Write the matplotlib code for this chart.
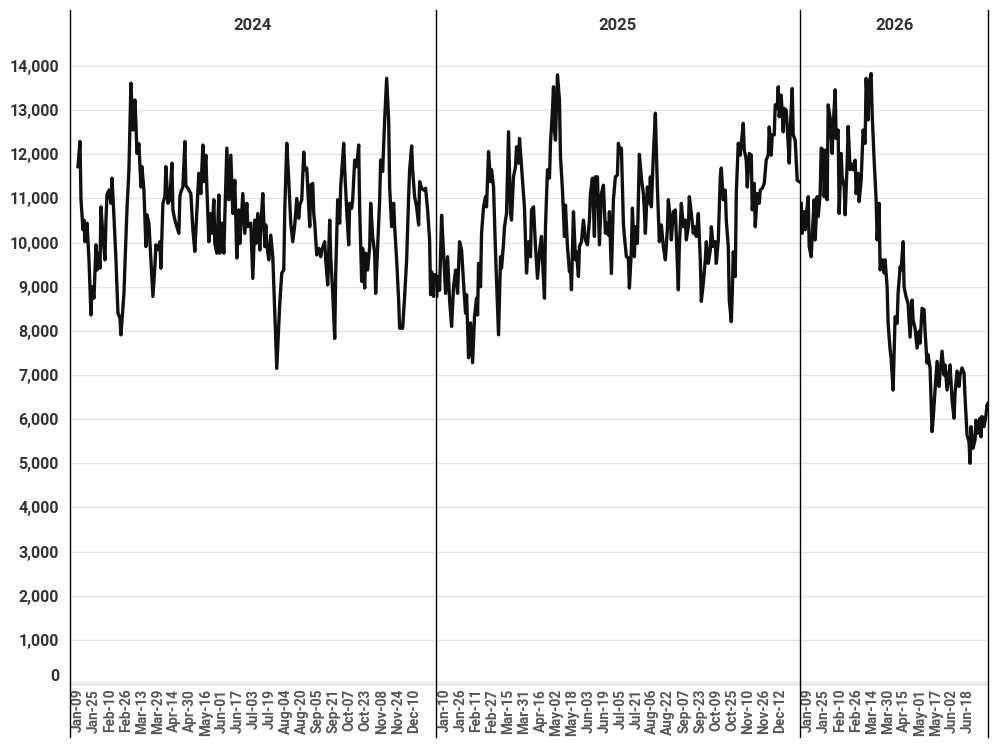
import matplotlib
matplotlib.use("Agg")
import matplotlib.pyplot as plt
import numpy as np
import pandas as pd
from matplotlib.lines import Line2D

plt.rcParams["font.family"] = ["Roboto", "DejaVu Sans"]

# values, (day of year, value) per year
days_2024 = [9, 11, 12, 14, 15, 16, 18, 20, 22, 23, 25, 27, 28, 30, 31, 32, 34, 36, 37, 38,
             40, 42, 43, 45, 47, 49, 51, 52, 55, 58, 60, 61, 62, 64, 66, 67, 68, 70, 72, 73,
             75, 77, 78, 80, 82, 84, 86, 87, 89, 91, 92, 94, 96, 97, 99, 101, 103, 104, 106, 108,
             110, 111, 112, 114, 116, 117, 120, 122, 124, 126, 127, 130, 132, 134, 135, 137, 138, 140, 141, 143,
             145, 146, 148, 150, 151, 153, 155, 156, 158, 160, 162, 164, 166, 168, 170, 171, 174, 176, 178, 179,
             182, 184, 186, 187, 189, 191, 192, 194, 196, 197, 198, 200, 202, 204, 206, 208, 211, 213, 215, 216,
             218, 220, 222, 224, 226, 228, 230, 231, 233, 235, 236, 238, 241, 242, 244, 245, 246, 248, 250, 252,
             253, 256, 257, 259, 261, 262, 264, 266, 267, 269, 271, 272, 275, 276, 278, 280, 281, 283, 284, 286,
             288, 290, 291, 293, 294, 296, 297, 299, 301, 302, 304, 306, 307, 309, 311, 312, 314, 316, 318, 320,
             321, 323, 325, 326, 328, 330, 331, 334, 336, 338, 340, 341, 343, 344, 346, 348, 350, 351, 353, 355,
             357, 359, 361, 362, 363, 365, 366]
values_2024 = [11720, 12290, 10970, 10290, 10510, 10020, 10440, 9610, 8360, 9000, 8740, 9950, 9380, 9760, 9420, 10810, 10130, 9610, 10510, 11080,
               11190, 10890, 11460, 10590, 9610, 8400, 8290, 7910, 8850, 10740, 11650, 12630, 13610, 12550, 13230, 12700, 12020, 12240, 11260, 11720,
               11190, 9910, 10630, 10440, 9610, 8780, 9460, 9950, 9840, 10020, 9420, 10890, 11040, 11720, 10890, 10970, 11800, 10740, 10510, 10360,
               10210, 11040, 11150, 11260, 12290, 11300, 11190, 11110, 10290, 9800, 10290, 11570, 11110, 12210, 11380, 11980, 11260, 10020, 10660, 10210,
               10970, 9980, 9760, 11080, 9760, 10440, 9760, 10590, 12140, 10970, 11980, 10660, 11410, 9650, 10740, 9980, 11110, 10210, 10890, 10360,
               10440, 9190, 10510, 9980, 10660, 9830, 10360, 11110, 9910, 10400, 9950, 9610, 10170, 9680, 8400, 7150, 8620, 9310, 9380, 10740,
               12250, 11410, 10440, 10020, 10400, 11000, 10550, 10850, 10970, 12050, 11650, 11690, 10360, 11310, 11340, 10660, 10440, 9720, 9870, 9680,
               9830, 10020, 9610, 9040, 10510, 9680, 8850, 7830, 9310, 10970, 10440, 11260, 12250, 11650, 10740, 9950, 10890, 10780, 10970, 11870,
               11720, 12210, 10740, 9120, 9870, 8970, 9760, 9380, 9910, 10890, 10140, 9760, 8850, 9910, 10970, 11870, 11610, 12780, 13720, 12780,
               11260, 10360, 10890, 10360, 9610, 8700, 8060, 8060, 8780, 9610, 11040, 11650, 12190, 11650, 11040, 10810, 10400, 11380, 11230, 11190,
               11230, 10740, 10060, 8820, 9340, 8780, 9270]

days_2025 = [1, 2, 3, 5, 7, 9, 11, 13, 15, 17, 19, 21, 23, 25, 27, 29, 31, 32, 34, 36,
             38, 40, 42, 43, 44, 46, 47, 49, 51, 52, 54, 56, 57, 59, 61, 64, 66, 67, 69, 70,
             72, 74, 76, 77, 79, 81, 82, 84, 85, 87, 89, 90, 92, 94, 96, 97, 99, 101, 103, 105,
             107, 108, 110, 111, 113, 115, 116, 118, 119, 120, 121, 123, 125, 126, 128, 130, 131, 133, 135, 136,
             137, 139, 141, 142, 144, 145, 147, 149, 151, 153, 155, 156, 158, 160, 161, 163, 165, 167, 169, 171,
             172, 174, 175, 177, 179, 181, 183, 184, 186, 187, 189, 190, 192, 194, 195, 197, 198, 200, 201, 203,
             205, 207, 209, 210, 211, 213, 215, 216, 217, 219, 221, 223, 225, 227, 229, 231, 233, 234, 236, 237,
             239, 241, 244, 245, 247, 249, 251, 252, 254, 255, 257, 259, 260, 262, 264, 266, 267, 269, 271, 272,
             274, 276, 277, 279, 281, 282, 284, 286, 287, 289, 291, 292, 294, 295, 297, 298, 299, 301, 302, 304,
             306, 307, 309, 310, 312, 313, 315, 317, 318, 320, 321, 323, 325, 326, 328, 330, 332, 334, 335, 337,
             338, 340, 341, 343, 344, 345, 347, 349, 350, 352, 353, 355, 356, 358, 359, 361, 363, 365]
values_2025 = [9300, 8770, 9230, 8920, 10620, 9760, 8850, 9680, 8700, 8100, 9000, 9380, 8850, 10020, 9830, 9080, 8400, 8820, 7390, 8180,
               7280, 8330, 8740, 8360, 9530, 9000, 10210, 10810, 11040, 10810, 12060, 11380, 11650, 11260, 9760, 7910, 9680, 9420, 9980, 10360,
               10660, 12510, 10660, 10510, 11490, 11720, 12170, 11800, 12360, 11720, 11110, 10780, 9310, 10020, 9680, 10740, 10810, 9910, 9190, 9790,
               10140, 9610, 8740, 10360, 11650, 11460, 12250, 13000, 13530, 12550, 12320, 13800, 13230, 11950, 11190, 10140, 10850, 9910, 9340, 9490,
               8930, 10700, 9610, 9790, 9230, 9910, 10020, 10510, 10060, 9950, 10510, 11110, 11460, 10140, 11490, 11490, 9950, 11110, 11300, 10210,
               10440, 10170, 10700, 9300, 10970, 11490, 11530, 12250, 12020, 12140, 10440, 10140, 9680, 9650, 8970, 9830, 10780, 9680, 10360, 9980,
               12000, 11460, 11110, 10740, 10210, 11260, 10890, 11490, 10810, 11980, 12930, 11260, 10020, 10400, 9910, 9610, 10290, 10970, 10510, 10060,
               10700, 10740, 8930, 9910, 10890, 10360, 10510, 10060, 10360, 11040, 10660, 10210, 10360, 10140, 10660, 9610, 8670, 9080, 9610, 10020,
               9530, 9830, 10360, 9910, 10020, 9530, 10060, 11490, 11690, 10970, 11190, 10510, 9910, 8700, 8210, 8850, 9790, 9230, 11110, 12250,
               11980, 12250, 12700, 12100, 11870, 11260, 12020, 11980, 10740, 11340, 10360, 11110, 10890, 11190, 11230, 11340, 11870, 11980, 12620, 11980,
               12440, 12440, 13120, 13040, 13530, 12850, 13340, 12510, 13040, 13000, 12630, 11800, 12550, 13490, 12440, 12320, 11410, 11380]

days_2026 = [2, 3, 5, 6, 7, 9, 10, 12, 13, 15, 16, 18, 19, 21, 22, 24, 25, 27, 28, 29,
             31, 33, 34, 36, 37, 39, 40, 42, 43, 45, 46, 48, 49, 51, 52, 54, 56, 57, 59, 60,
             62, 64, 66, 67, 69, 70, 72, 73, 75, 77, 78, 80, 81, 83, 85, 86, 88, 89, 91, 92,
             94, 96, 98, 99, 101, 102, 104, 105, 107, 109, 111, 113, 114, 116, 118, 120, 121, 123, 125, 126,
             128, 129, 131, 133, 134, 136, 138, 140, 141, 143, 145, 146, 148, 150, 151, 153, 155, 156, 158, 160,
             161, 163, 165, 166, 168, 170, 171, 172, 174, 176, 177, 179, 181, 182, 183, 185, 187, 188, 189]
values_2026 = [10890, 10210, 10700, 10290, 10590, 11040, 9910, 9680, 10140, 10970, 10060, 11040, 10590, 11110, 12140, 12100, 11040, 12100, 10970, 13120,
               12820, 12020, 12630, 13460, 12360, 12550, 10660, 12020, 11490, 11260, 10630, 11790, 12630, 11650, 11790, 11650, 11870, 11110, 11570, 10930,
               11410, 12550, 12250, 13720, 12780, 13610, 13830, 12930, 11870, 10970, 10060, 10890, 9380, 9610, 9310, 9610, 9000, 8170, 7570, 7380,
               6660, 8320, 8170, 8850, 9450, 9380, 10020, 9000, 8770, 8620, 7860, 8700, 8250, 8060, 7610, 7990, 7720, 8510, 8480, 7990,
               7270, 7460, 7160, 5720, 5980, 6660, 7310, 6740, 7040, 7540, 7000, 7230, 6660, 7040, 7230, 6440, 6020, 6590, 7090, 6740,
               7000, 7160, 7040, 6510, 5640, 5490, 5000, 5830, 5340, 5530, 5980, 5680, 6020, 5600, 6060, 5830, 6090, 6320, 6360]

years = [2024, 2025, 2026]
series_days = [days_2024, days_2025, days_2026]
series_values = [values_2024, values_2025, values_2026]
panel_span = [366, 365, 188]          # days shown in each panel
first_tick = ["2024-01-09", "2025-01-10", "2026-01-09"]
tick_count = [22, 22, 11]
y_ticks = list(range(0, 15000, 1000))

fig = plt.figure(figsize=(10, 7.5), dpi=100)
gs = fig.add_gridspec(1, 3, width_ratios=panel_span, wspace=0,
                      left=0.070, right=0.988, top=0.9467, bottom=0.0853)

axes = []
for i, year in enumerate(years):
    ax = fig.add_subplot(gs[0, i])
    start = pd.Timestamp(f"{year}-01-01")
    dates = start + pd.to_timedelta(np.array(series_days[i]) - 1, unit="D")
    ax.plot(dates, series_values[i], color="#111111", lw=2.4, solid_joinstyle="round")

    ax.set_xlim(start, start + pd.Timedelta(days=panel_span[i]))
    ax.set_ylim(-45, 14590)

    ticks = pd.date_range(first_tick[i], periods=tick_count[i], freq="16D")
    ax.set_xticks(ticks)
    ax.set_xticklabels([t.strftime("%b-%d") for t in ticks], rotation=90,
                       fontsize=9.8, fontweight="bold", color="#555555")
    ax.tick_params(axis="x", length=0, pad=2)

    ax.set_yticks(y_ticks)
    if i == 0:
        ax.set_yticklabels([f"{v:,}" for v in y_ticks], fontsize=11.5,
                           fontweight="bold", color="#333333")
        ax.get_yticklabels()[0].set_va("bottom")
        ax.tick_params(axis="y", length=0, pad=8)
    else:
        ax.tick_params(axis="y", length=0, labelleft=False)

    ax.grid(axis="y", color="#e4e4e4", lw=1)
    ax.axhline(0, color="#efefef", lw=5, zorder=0)
    ax.set_axisbelow(True)
    for side in ["left", "right", "top", "bottom"]:
        ax.spines[side].set_visible(False)
    axes.append(ax)

# pane headers and border lines
for i, ax in enumerate(axes):
    pos = ax.get_position()
    fig.text((pos.x0 + pos.x1) / 2, 1 - 25 / 750, str(years[i]), ha="center", va="center",
             fontsize=12, fontweight="bold", color="#333333")
    fig.add_artist(Line2D([pos.x0, pos.x0], [1 - 737 / 750, 1 - 10 / 750],
                          color="black", lw=1))
last = axes[-1].get_position()
fig.add_artist(Line2D([last.x1, last.x1], [1 - 737 / 750, 1 - 10 / 750], color="black", lw=1))

fig.savefig("out.png", dpi=100)
